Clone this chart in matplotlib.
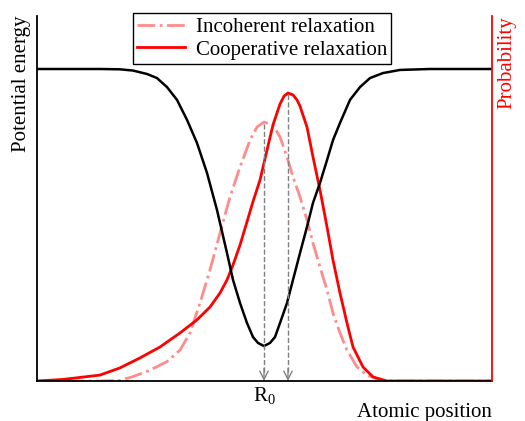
import matplotlib
matplotlib.use("Agg")
import matplotlib.pyplot as plt

# =========================
# Configs
# =========================
plt.rcParams['font.family'] = ['Liberation Serif', 'DejaVu Serif']
plt.rcParams['mathtext.fontset'] = 'custom'
plt.rcParams['mathtext.rm'] = 'Liberation Serif'
plt.rcParams['font.size'] = 15

PINK = (1.0, 0.55, 0.55)

# =========================
# Data
# =========================
# potential energy well
energy_x = [0.0, 1.385, 1.824, 2.110, 2.418, 2.637, 2.857, 3.077, 3.297,
            3.516, 3.736, 3.956, 4.176, 4.308, 4.462, 4.615, 4.747, 4.857,
            4.989, 5.121, 5.231, 5.341, 5.495, 5.626, 5.780, 5.934, 6.066,
            6.220, 6.374, 6.505, 6.659, 6.879, 7.099, 7.319, 7.604, 7.978,
            8.637, 10.0]
energy_y = [1.0, 1.0, 0.999, 0.995, 0.984, 0.971, 0.942, 0.901, 0.837,
            0.763, 0.667, 0.548, 0.410, 0.324, 0.250, 0.186, 0.141, 0.122,
            0.112, 0.122, 0.141, 0.186, 0.250, 0.324, 0.410, 0.494, 0.571,
            0.635, 0.708, 0.772, 0.827, 0.901, 0.942, 0.971, 0.987, 0.997,
            1.0, 1.0]

# incoherent relaxation probability
incoh_x = [0.0, 1.385, 1.824, 2.110, 2.484, 2.857, 3.143, 3.363, 3.582,
           3.802, 4.022, 4.242, 4.462, 4.681, 4.835, 4.989, 5.187, 5.341,
           5.495, 5.626, 5.780, 5.934, 6.066, 6.220, 6.374, 6.505, 6.659,
           6.813, 7.033, 7.253, 7.538, 7.824, 10.0]
incoh_y = [0.0, 0.0, 0.002, 0.014, 0.035, 0.062, 0.099, 0.154, 0.250,
           0.356, 0.474, 0.590, 0.686, 0.772, 0.814, 0.830, 0.820, 0.782,
           0.718, 0.654, 0.590, 0.516, 0.442, 0.365, 0.292, 0.218, 0.154,
           0.099, 0.045, 0.019, 0.003, 0.0, 0.0]

# cooperative relaxation probability
coop_x = [0.0, 0.571, 1.385, 1.824, 2.264, 2.703, 3.143, 3.516, 3.802,
          4.022, 4.176, 4.308, 4.462, 4.615, 4.747, 4.901, 5.055, 5.187,
          5.341, 5.429, 5.516, 5.626, 5.714, 5.780, 5.934, 6.066, 6.220,
          6.374, 6.505, 6.659, 6.813, 6.945, 7.165, 7.385, 7.692, 7.978,
          10.0]
coop_y = [0.0, 0.005, 0.019, 0.042, 0.074, 0.109, 0.154, 0.196, 0.237,
          0.282, 0.324, 0.372, 0.436, 0.510, 0.575, 0.644, 0.740, 0.821,
          0.888, 0.913, 0.923, 0.917, 0.901, 0.881, 0.814, 0.718, 0.612,
          0.494, 0.388, 0.282, 0.186, 0.109, 0.045, 0.013, 0.0, 0.0, 0.0]

# peak positions marked with arrows
peak_x = [4.989, 5.516]
peak_y = [0.830, 0.923]
tick_label = "R$_0$"

# =========================
# Plot
# =========================
fig = plt.figure(figsize=(5.25, 4.21), dpi=100)
ax = fig.add_axes([37 / 525, 40 / 421, 455 / 525, 365 / 421])

ax.plot(incoh_x, incoh_y, color=PINK, lw=2, ls='-.', label="Incoherent relaxation")
ax.plot(coop_x, coop_y, color='red', lw=2, label="Cooperative relaxation")
ax.plot(energy_x, energy_y, color='black', lw=1.8)

for px, py in zip(peak_x, peak_y):
    ax.vlines(px, 0.03, py, colors='gray', linestyles='--', lw=1)
    ax.annotate('', xy=(px, 0), xytext=(px, 0.04),
                arrowprops=dict(arrowstyle='->', color='gray', lw=1,
                                shrinkA=0, shrinkB=0))

ax.set_xlim(0, 10)
ax.set_ylim(0, 365 / 312)
ax.set_xticks([peak_x[0]])
ax.set_xticklabels([tick_label])
ax.set_yticks([])
ax.tick_params(axis='x', length=0, pad=3)

ax.spines['top'].set_visible(False)
ax.spines['right'].set_visible(False)
for s in ['left', 'bottom']:
    ax.spines[s].set_linewidth(1.3)

ax.set_xlabel("Atomic position", loc='right', labelpad=-3)
ax.set_ylabel("Potential energy", loc='top')

ax2 = ax.twinx()
ax2.set_ylim(0, 365 / 312)
ax2.set_yticks([])
ax2.spines['top'].set_visible(False)
ax2.spines['left'].set_visible(False)
ax2.spines['bottom'].set_visible(False)
ax2.spines['right'].set_color('red')
ax2.spines['right'].set_linewidth(1.3)
ax2.set_ylabel("Probability", loc='top', color='red')

leg = ax.legend(loc='upper center', bbox_to_anchor=(0.495, 1.008),
                fancybox=False, framealpha=1, edgecolor='black',
                handlelength=2.3, borderpad=0.2, labelspacing=0.15,
                handletextpad=0.5, borderaxespad=0)
leg.get_frame().set_linewidth(1)

fig.savefig("out.png", dpi=100)
